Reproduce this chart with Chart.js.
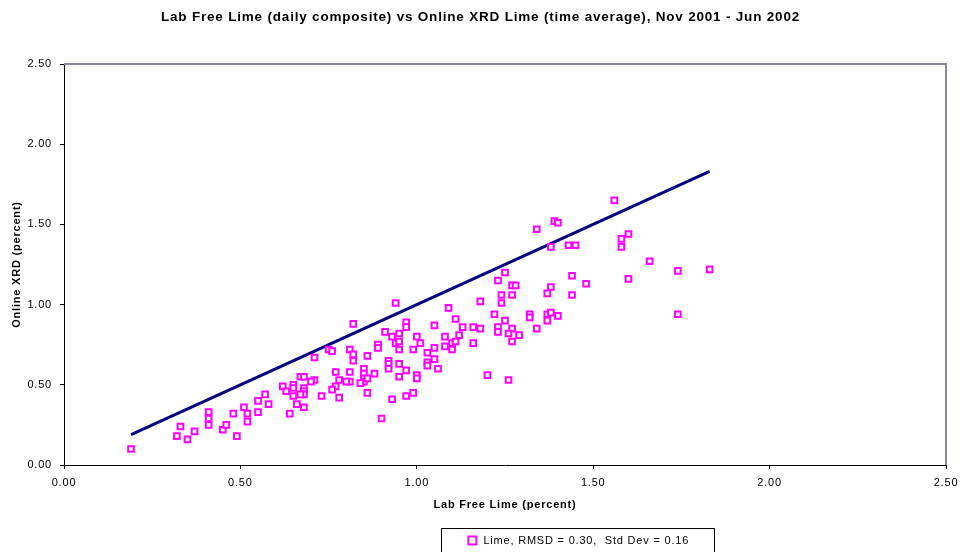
<!DOCTYPE html>
<html>
<head>
<meta charset="utf-8">
<title>Lab Free Lime vs Online XRD Lime</title>
<script src="https://cdn.jsdelivr.net/npm/chart.js@4.4.1/dist/chart.umd.min.js"></script>
<style>
  html, body { margin: 0; padding: 0; background: #fff; }
  #wrap { width: 961px; height: 552px; }
</style>
</head>
<body>
<div id="wrap"><canvas id="limeChart" width="961" height="552"></canvas></div>
<script>
// lab free lime (daily composite), percent
const labFreeLime = [
  0.19, 0.32, 0.33, 0.35, 0.37, 0.41, 0.41, 0.41, 0.45, 0.46,
  0.48, 0.49, 0.51, 0.52, 0.52, 0.55, 0.55, 0.57, 0.58, 0.62,
  0.63, 0.64, 0.65, 0.65, 0.66, 0.67, 0.82, 0.91, 0.93, 0.95,
  0.97, 0.97, 1.05, 1.00, 1.08, 1.08, 0.94, 0.95, 0.95, 0.89,
  0.89, 0.99, 1.01, 1.03, 1.05, 1.05, 1.03, 1.03, 1.06, 0.75,
  0.76, 0.81, 0.82, 0.82, 0.86, 0.71, 0.92, 0.92, 0.92, 0.95,
  0.97, 0.95, 1.00, 1.00, 0.88, 0.85, 0.85, 0.85, 0.85, 0.86,
  0.84, 0.81, 0.81, 0.77, 0.78, 0.80, 0.77, 0.76, 0.71, 0.70,
  0.68, 0.65, 0.68, 0.68, 0.68, 0.67, 0.68, 0.73, 0.78, 0.86,
  0.93, 0.97, 0.99, 0.90, 1.25, 1.23, 1.27, 1.28, 1.44, 1.38,
  1.37, 1.44, 1.24, 1.27, 1.18, 1.24, 1.09, 1.22, 1.32, 1.32,
  1.37, 1.38, 1.40, 1.37, 1.25, 1.11, 1.13, 1.16, 1.18, 1.23,
  1.23, 1.27, 1.26, 1.29, 1.27, 1.34, 1.12, 1.10, 1.11, 1.10,
  1.16, 1.20, 1.26, 1.56, 1.39, 1.40, 1.38, 1.43, 1.45, 1.58,
  1.60, 1.58, 1.66, 1.74, 1.83, 1.48, 1.60, 1.74, 0.94, 1.34
];

// online XRD lime (time average), percent
const onlineXrd = [
  0.10, 0.18, 0.24, 0.16, 0.21, 0.33, 0.29, 0.25, 0.22, 0.25,
  0.32, 0.18, 0.36, 0.32, 0.27, 0.40, 0.33, 0.44, 0.38, 0.49,
  0.46, 0.32, 0.50, 0.43, 0.38, 0.55, 0.88, 0.83, 0.80, 0.82,
  0.89, 0.86, 0.87, 0.80, 0.80, 0.74, 0.76, 0.77, 0.72, 0.75,
  0.73, 0.72, 0.76, 0.70, 0.73, 0.66, 0.64, 0.62, 0.60, 0.72,
  0.71, 0.72, 0.69, 0.65, 0.68, 0.67, 0.65, 0.63, 0.60, 0.63,
  0.59, 0.55, 0.56, 0.54, 0.57, 0.60, 0.57, 0.54, 0.52, 0.54,
  0.51, 0.58, 0.52, 0.58, 0.53, 0.52, 0.49, 0.47, 0.53, 0.52,
  0.55, 0.48, 0.48, 0.46, 0.44, 0.44, 0.36, 0.43, 0.42, 0.45,
  0.41, 0.43, 0.45, 0.29, 1.20, 1.15, 1.12, 1.12, 1.18, 1.11,
  1.07, 1.06, 1.06, 1.06, 1.02, 1.01, 0.98, 0.94, 0.94, 0.92,
  0.94, 0.95, 0.93, 0.90, 0.90, 0.91, 0.86, 0.86, 0.85, 0.86,
  0.83, 0.85, 0.82, 0.81, 0.77, 0.85, 0.81, 0.76, 0.77, 0.72,
  0.76, 0.56, 0.53, 1.65, 1.52, 1.51, 1.36, 1.37, 1.37, 1.41,
  1.44, 1.36, 1.27, 1.21, 1.22, 1.13, 1.16, 0.94, 1.01, 1.47
];

const axisTicks = [0, 0.5, 1.0, 1.5, 2.0, 2.5];
const seriesLabel = 'Lime, RMSD = 0.30,  Std Dev = 0.16';
const chartTitle = 'Lab Free Lime (daily composite) vs Online XRD Lime (time average), Nov 2001 - Jun 2002';

const fontFamily = '"Liberation Sans", Arial, Helvetica, sans-serif';

// scatter points
const points = labFreeLime.map((x, i) => ({ x: x, y: onlineXrd[i] }));

// 1:1 reference line over the range of the lab data
const xMin = Math.min(...labFreeLime);
const xMax = Math.max(...labFreeLime);
const oneToOne = [{ x: xMin, y: xMin }, { x: xMax, y: xMax }];

// the original text is a bit wider than Liberation Sans, so open it up a little
const spacing = '0.8px';

// gray frame on top/right of the plot area + boxed legend placed below the x title
const framePlugin = {
  id: 'framePlugin',
  beforeUpdate(chart) {
    chart.ctx.letterSpacing = spacing;
  },
  beforeDraw(chart) {
    chart.ctx.letterSpacing = spacing;
    const lg = chart.legend;
    if (lg && lg.legendHitBoxes.length) {
      const w = lg.legendHitBoxes[0].width;
      const pad = lg.options.labels.padding;
      lg.left = 578 - w / 2 - pad;
      lg.right = lg.left + w + 2 * pad;
      lg.top = 528;
      lg.bottom = 560;
    }
  },
  afterDraw(chart) {
    const { ctx, chartArea: a } = chart;
    ctx.save();
    ctx.strokeStyle = '#8f8699';
    ctx.lineWidth = 2;
    ctx.beginPath();
    ctx.moveTo(a.left, a.top);
    ctx.lineTo(a.right, a.top);
    ctx.lineTo(a.right, a.bottom);
    ctx.stroke();
    // legend box
    ctx.strokeStyle = '#000';
    ctx.lineWidth = 1;
    ctx.strokeRect(441.5, 528.5, 273, 30);
    ctx.restore();
  }
};

const ctx = document.getElementById('limeChart').getContext('2d');
new Chart(ctx, {
  type: 'scatter',
  data: {
    datasets: [
      {
        label: seriesLabel,
        data: points,
        pointStyle: 'rect',
        pointRadius: 4,
        pointHoverRadius: 4,
        borderWidth: 2,
        borderColor: '#ff00ff',
        backgroundColor: '#ffffff'
      },
      {
        label: '1:1',
        data: oneToOne,
        showLine: true,
        borderColor: '#000080',
        borderWidth: 3,
        pointRadius: 0,
        pointHoverRadius: 0
      }
    ]
  },
  options: {
    responsive: false,
    animation: false,
    layout: { padding: 0 },
    plugins: {
      title: {
        display: true,
        text: chartTitle,
        color: '#000',
        font: { family: fontFamily, size: 13.5, weight: 'bold' },
        padding: { top: 9, bottom: 38.8 }
      },
      legend: {
        position: 'chartArea',
        align: 'start',
        labels: {
          color: '#000',
          font: { family: fontFamily, size: 11 },
          usePointStyle: true,
          boxHeight: 8,
          padding: 7,
          filter: item => item.datasetIndex === 0
        }
      },
      tooltip: { enabled: false }
    },
    scales: {
      x: {
        type: 'linear',
        min: 0,
        max: 2.5,
        afterFit: s => { s.height = 87; s.paddingLeft = 0; s.paddingRight = 15; },
        afterBuildTicks: s => { s.ticks = axisTicks.map(v => ({ value: v })); },
        border: { display: true, color: '#000', width: 1 },
        grid: { drawOnChartArea: false, drawTicks: true, tickLength: 4, color: '#000' },
        ticks: {
          color: '#000',
          padding: 7,
          font: { family: fontFamily, size: 11 },
          callback: v => Number(v).toFixed(2)
        },
        title: {
          display: true,
          text: 'Lab Free Lime (percent)',
          color: '#000',
          font: { family: fontFamily, size: 11, weight: 'bold' },
          padding: { top: 0, bottom: 40.4 }
        }
      },
      y: {
        type: 'linear',
        min: 0,
        max: 2.5,
        afterFit: s => { s.width = 64; s.paddingTop = 0; s.paddingBottom = 0; },
        afterBuildTicks: s => { s.ticks = axisTicks.map(v => ({ value: v })); },
        border: { display: true, color: '#000', width: 1 },
        grid: { drawOnChartArea: false, drawTicks: true, tickLength: 4, color: '#000' },
        ticks: {
          color: '#000',
          padding: 8,
          font: { family: fontFamily, size: 11 },
          callback: v => Number(v).toFixed(2)
        },
        title: {
          display: true,
          text: 'Online XRD (percent)',
          color: '#000',
          font: { family: fontFamily, size: 11, weight: 'bold' },
          padding: { top: 10.4, bottom: 0 }
        }
      }
    }
  },
  plugins: [framePlugin]
});
</script>
</body>
</html>
